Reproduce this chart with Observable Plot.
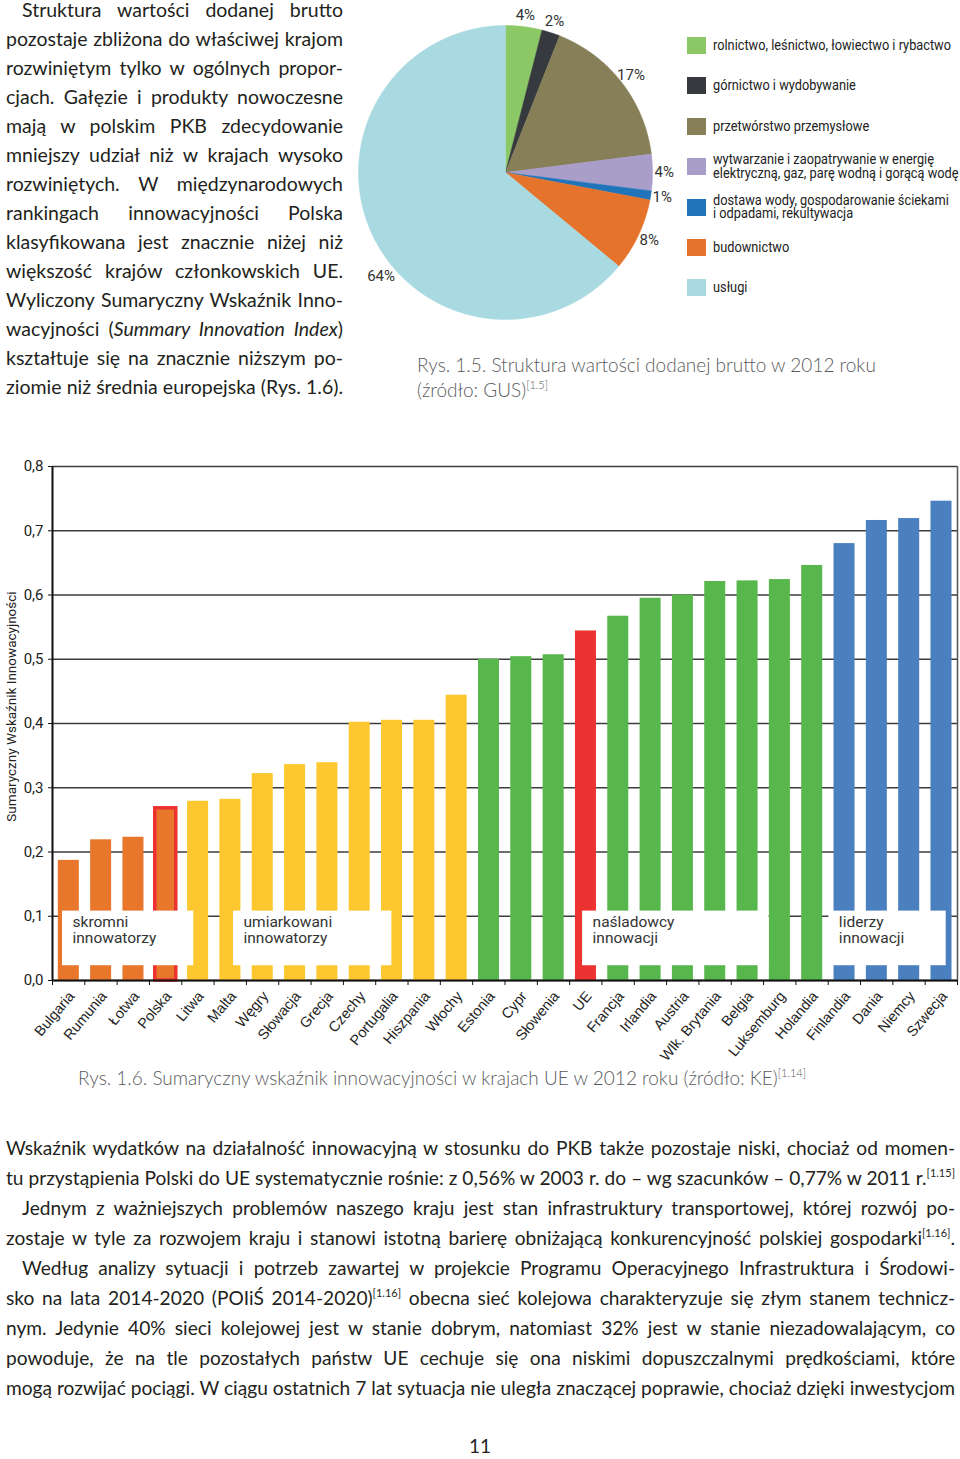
<!DOCTYPE html>
<html><head><meta charset="utf-8">
<script src="https://cdn.jsdelivr.net/npm/d3@7"></script>
<script src="https://cdn.jsdelivr.net/npm/@observablehq/plot@0.6"></script>
<style>
html,body{margin:0;padding:0;background:#fff;}
body{width:960px;height:1459px;position:relative;overflow:hidden;font-family:Lato,"Open Sans",sans-serif;color:#231f20;}
.abs{position:absolute;}
.para .ln{white-space:nowrap;text-align:justify;text-align-last:justify;}
.ind{padding-left:16px;}
.sup{font-size:11px;position:relative;top:-8px;line-height:0;}
.cap{color:#5a5b5d;font-weight:300;font-size:19px;}
.cond{font-family:Roboto,sans-serif;}
.leg{position:absolute;left:687px;width:270px;}
.leg .row{position:absolute;left:0;display:flex;align-items:center;}
.leg .sw{width:19px;height:17px;flex:none;}
.leg .tx{margin-left:7px;font-size:15px;line-height:13.5px;color:#222;white-space:pre;transform-origin:0 50%;}
</style></head><body>

<div class="abs para" style="left:6px;top:-5.5px;width:337px;font-size:19.5px;line-height:29px;">
<div class="ln ind">Struktura wartości dodanej brutto</div>
<div class="ln">pozostaje zbliżona do właściwej krajom</div>
<div class="ln">rozwiniętym tylko w ogólnych propor-</div>
<div class="ln">cjach. Gałęzie i produkty nowoczesne</div>
<div class="ln">mają w polskim PKB zdecydowanie</div>
<div class="ln">mniejszy udział niż w krajach wysoko</div>
<div class="ln">rozwiniętych. W międzynarodowych</div>
<div class="ln">rankingach innowacyjności Polska</div>
<div class="ln">klasyfikowana jest znacznie niżej niż</div>
<div class="ln">większość krajów członkowskich UE.</div>
<div class="ln">Wyliczony Sumaryczny Wskaźnik Inno-</div>
<div class="ln">wacyjności (<i>Summary Innovation Index</i>)</div>
<div class="ln">kształtuje się na znacznie niższym po-</div>
<div class="ln">ziomie niż średnia europejska (Rys. 1.6).</div>
</div>

<div id="pie" class="abs" style="left:355px;top:0;width:320px;"></div>
<div id="legend" class="leg cond" style="top:0;"></div>

<div class="abs cap" style="left:417px;top:352px;line-height:25px;">
Rys. 1.5. Struktura wartości dodanej brutto w 2012 roku<br>(źródło: GUS)<span class="sup">[1.5]</span>
</div>

<div id="bars" class="abs" style="left:0;top:440px;width:960px;"></div>

<div class="abs cap" style="left:78px;top:1065px;line-height:25px;white-space:nowrap;">
Rys. 1.6. Sumaryczny wskaźnik innowacyjności w krajach UE w 2012 roku (źródło: KE)<span class="sup">[1.14]</span>
</div>

<div class="abs para" style="left:6px;top:1133px;width:949px;font-size:19.15px;line-height:30px;">
<div class="ln">Wskaźnik wydatków na działalność innowacyjną w stosunku do PKB także pozostaje niski, chociaż od momen-</div>
<div class="ln">tu przystąpienia Polski do UE systematycznie rośnie: z 0,56% w 2003 r. do – wg szacunków – 0,77% w 2011 r.<span class="sup">[1.15]</span></div>
<div class="ln ind">Jednym z ważniejszych problemów naszego kraju jest stan infrastruktury transportowej, której rozwój po-</div>
<div class="ln">zostaje w tyle za rozwojem kraju i stanowi istotną barierę obniżającą konkurencyjność polskiej gospodarki<span class="sup">[1.16]</span>.</div>
<div class="ln ind">Według analizy sytuacji i potrzeb zawartej w projekcie Programu Operacyjnego Infrastruktura i Środowi-</div>
<div class="ln">sko na lata 2014-2020 (POIiŚ 2014-2020)<span class="sup">[1.16]</span> obecna sieć kolejowa charakteryzuje się złym stanem technicz-</div>
<div class="ln">nym. Jedynie 40% sieci kolejowej jest w stanie dobrym, natomiast 32% jest w stanie niezadowalającym, co</div>
<div class="ln">powoduje, że na tle pozostałych państw UE cechuje się ona niskimi dopuszczalnymi prędkościami, które</div>
<div class="ln">mogą rozwijać pociągi. W ciągu ostatnich 7 lat sytuacja nie uległa znaczącej poprawie, chociaż dzięki inwestycjom</div>
</div>

<div class="abs" style="left:0;width:960px;top:1434px;text-align:center;font-size:19px;">11</div>

<script>
const COND = "Roboto, sans-serif";

// ---------- Pie: struktura wartości dodanej brutto 2012 ----------
const sectors = [
  "rolnictwo, leśnictwo, łowiectwo i rybactwo",
  "górnictwo i wydobywanie",
  "przetwórstwo przemysłowe",
  "wytwarzanie i zaopatrywanie w energię\nelektryczną, gaz, parę wodną i gorącą wodę",
  "dostawa wody, gospodarowanie ściekami\ni odpadami, rekultywacja",
  "budownictwo",
  "usługi"
];
const sectorShares = [4, 2, 17, 4, 1, 8, 64];
const sectorColors = ["#8cc865", "#363a3e", "#867f58", "#a99dca", "#1f74ba", "#e6732b", "#a9dae1"];

// ---------- Bars: Sumaryczny Wskaźnik Innowacyjności 2012 ----------
const countries = ["Bulgaria","Rumunia","Łotwa","Polska","Litwa","Malta","Węgry","Słowacja","Grecja","Czechy","Portugalia","Hiszpania","Włochy","Estonia","Cypr","Słowenia","UE","Francja","Irlandia","Austria","Wlk. Brytania","Belgia","Luksemburg","Holandia","Finlandia","Dania","Niemcy","Szwecja"];
const siiValues = [0.187,0.219,0.223,0.268,0.279,0.282,0.322,0.336,0.339,0.402,0.405,0.405,0.444,0.500,0.504,0.507,0.544,0.567,0.595,0.600,0.621,0.622,0.624,0.646,0.680,0.716,0.719,0.746];
const countryGroups = ["skromni","skromni","skromni","skromni",
  "umiarkowani","umiarkowani","umiarkowani","umiarkowani","umiarkowani","umiarkowani","umiarkowani","umiarkowani","umiarkowani",
  "naśladowcy","naśladowcy","naśladowcy","UE","naśladowcy","naśladowcy","naśladowcy","naśladowcy","naśladowcy","naśladowcy","naśladowcy",
  "liderzy","liderzy","liderzy","liderzy"];
const groupNames = ["skromni","umiarkowani","naśladowcy","UE","liderzy"];
const groupColors = ["#e8772b","#fdc82f","#58b74c","#ed3331","#4b80c0"];
const highlighted = "Polska";
const yTicks = [0,0.1,0.2,0.3,0.4,0.5,0.6,0.7,0.8];
const yTickLabels = ["0,0","0,1","0,2","0,3","0,4","0,5","0,6","0,7","0,8"];
const yTitle = "Sumaryczny Wskaźnik Innowacyjności";
// group labels, spanning bar slots (in bar-index units)
const groupLabels = ["skromni\ninnowatorzy","umiarkowani\ninnowatorzy","naśladowcy\ninnowacji","liderzy\ninnowacji"];
const labelFrom = [0.31, 5.6, 16.4, 24.02];
const labelTo = [4.37, 10.5, 22.17, 27.65];

// pie geometry from shares
const arcs = d3.pie().sort(null).value(d => d)(sectorShares);
const piePoints = arcs.flatMap((a, k) => {
  const n = Math.max(4, Math.ceil((a.endAngle - a.startAngle) / 0.01));
  const pts = [{k, x: 0, y: 0}];
  for (let j = 0; j <= n; j++) {
    const t = a.startAngle + (a.endAngle - a.startAngle) * j / n;
    pts.push({k, x: Math.sin(t), y: Math.cos(t)});
  }
  pts.push({k, x: 0, y: 0});
  return pts;
});
// labels at mid-angle; the dominant slice's label is "best-fit" shifted toward the lower left
const maxShare = d3.max(sectorShares);
const pieLabels = arcs.map((a, k) => {
  const big = sectorShares[k] === maxShare;
  const m = (a.startAngle + a.endAngle) / 2 - (big ? 0.253 : 0);
  const r = big ? 1.1 : 1.08;
  return {x: r * Math.sin(m), y: r * Math.cos(m), text: sectorShares[k] + "%"};
});

const pie = Plot.plot({
  width: 320, height: 340,
  marginLeft: 3, marginRight: 23, marginTop: 25, marginBottom: 21,
  x: {domain: [-1, 1], axis: null},
  y: {domain: [-1, 1], axis: null},
  color: {domain: sectors, range: sectorColors},
  style: {background: "transparent", overflow: "visible"},
  marks: [
    Plot.line(piePoints, {x: "x", y: "y", z: "k", fill: d => sectors[d.k], stroke: d => sectors[d.k], strokeWidth: 0.5}),
    Plot.text(pieLabels, {x: "x", y: "y", text: "text", fontSize: 15, fill: "#333", fontFamily: COND})
  ]
});
document.getElementById("pie").append(pie);

// legend (condensed to the reference's narrow face)
const legend = document.getElementById("legend");
const txs = [];
sectors.forEach((s, k) => {
  const row = document.createElement("div");
  row.className = "row";
  row.style.top = (25.5 + k * 40.4) + "px";
  row.style.height = "40px";
  const sw = document.createElement("div");
  sw.className = "sw"; sw.style.background = sectorColors[k];
  const tx = document.createElement("div");
  tx.className = "tx"; tx.textContent = s;
  row.append(sw, tx);
  legend.append(row);
  txs.push(tx);
});
const w0 = txs[0].getBoundingClientRect().width;
const sx = 238 / w0;
txs.forEach(t => { t.style.transform = `scaleX(${sx})`; });

// bars
const barData = countries.map((c, i) => ({i, country: c, value: siiValues[i], group: countryGroups[i]}));
const boxes = groupLabels.map((l, k) => ({label: l, from: labelFrom[k], to: labelTo[k]}));

const bars = Plot.plot({
  width: 960, height: 630,
  marginTop: 26, marginBottom: 90, marginLeft: 52, marginRight: 3,
  x: {domain: [0, countries.length], axis: null, label: null},
  y: {domain: [0, 0.8], axis: null, label: null},
  color: {domain: groupNames, range: groupColors},
  style: {background: "transparent", fontFamily: COND, overflow: "visible"},
  marks: [
    Plot.ruleY(yTicks, {stroke: "#3c3c3c", strokeWidth: 1.5}),
    Plot.rect(barData, {x1: "i", x2: d => d.i + 1, y1: 0, y2: "value", fill: "group", insetLeft: 5.8, insetRight: 5.5}),
    Plot.rect(barData.filter(d => d.country === highlighted), {x1: "i", x2: d => d.i + 1, y1: 0, y2: "value", fill: "none", stroke: "#ed3331", strokeWidth: 3.5, insetLeft: 5.8, insetRight: 5.5}),
    Plot.rect(boxes, {x1: "from", x2: "to", y1: 0.023, y2: 0.108, fill: "white"}),
    Plot.text(boxes, {x: "from", y: 0.1, text: "label", dx: 10, textAnchor: "start", lineAnchor: "top", fontSize: 15.5, lineHeight: 1.0, fill: "#333", fontFamily: COND}),
    Plot.ruleX([countries.length], {stroke: "#555", strokeWidth: 1.5}),
    Plot.ruleX([0], {stroke: "#111", strokeWidth: 2}),
    Plot.ruleY([0], {stroke: "#111", strokeWidth: 2}),
    Plot.axisY(yTicks, {tickFormat: (d, i) => yTickLabels[i], tickSize: 4, tickPadding: 5, fontSize: 15, label: null, stroke: "#111", fill: "#222"}),
    Plot.axisX(d3.range(countries.length + 1), {tickFormat: () => "", tickSize: 5, label: null, stroke: "#111"}),
    Plot.axisX(countries.map((c, i) => i + 0.5), {tickFormat: t => countries[Math.floor(t)], tickRotate: -50, tickSize: 0, tickPadding: 13, dx: 3, fontSize: 14.5, fontFamily: "'Liberation Sans', Arial, sans-serif", label: null, fill: "#222"}),
    Plot.text([yTitle], {frameAnchor: "left", textAnchor: "middle", dx: -41, dy: -17, rotate: -90, fontSize: 13.5, fill: "#222", fontFamily: COND})
  ]
});
document.getElementById("bars").append(bars);
</script>
</body></html>
